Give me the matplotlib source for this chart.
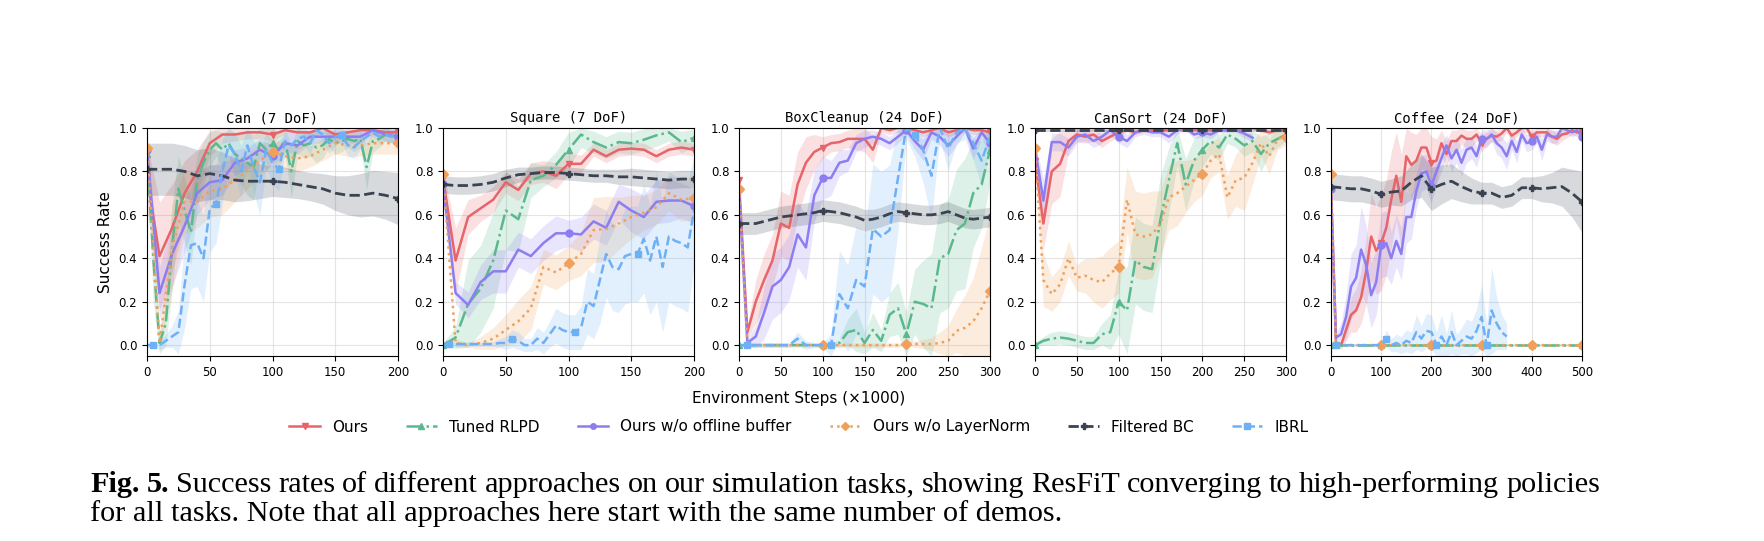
import numpy as np
import matplotlib
matplotlib.use("Agg")
import matplotlib.pyplot as plt
from matplotlib.lines import Line2D

# ---------------- data ----------------
methods = ["Ours", "Tuned RLPD", "Ours w/o offline buffer", "Ours w/o LayerNorm", "Filtered BC", "IBRL"]
titles = ["Can (7 DoF)", "Square (7 DoF)", "BoxCleanup (24 DoF)", "CanSort (24 DoF)", "Coffee (24 DoF)"]
x_max = [200, 200, 300, 300, 500]
x_ticks = [[0, 50, 100, 150, 200], [0, 50, 100, 150, 200],
           [0, 50, 100, 150, 200, 250, 300], [0, 50, 100, 150, 200, 250, 300],
           [0, 100, 200, 300, 400, 500]]

# Can
can_x10 = np.arange(0, 201, 10)
can_x5 = np.arange(0, 201, 5)
can_ours = [0.78, 0.41, 0.54, 0.70, 0.80, 0.93, 0.97, 0.97, 0.98, 0.98, 0.97, 0.99, 0.98, 0.98, 1.00, 0.97, 0.98, 0.99, 0.99, 0.98, 0.98]
can_ours_sd = [0.15, 0.25, 0.20, 0.15, 0.10, 0.06, 0.04, 0.03, 0.03, 0.03, 0.03, 0.02, 0.02, 0.03, 0.02, 0.03, 0.02, 0.02, 0.02, 0.02, 0.02]
can_rlpd = [0.88, 0.40, 0.01, 0.10, 0.45, 0.72, 0.62, 0.52, 0.76, 0.84, 0.90, 0.93, 0.90, 0.93, 0.88, 0.86, 0.84, 0.82, 0.93, 0.90,
            0.93, 0.90, 0.94, 0.80, 0.94, 0.92, 0.93, 0.91, 0.92, 0.95, 0.93, 0.94, 0.95, 0.94, 0.95, 0.82, 0.94, 0.95, 0.97, 0.96, 0.97]
can_rlpd_sd = [0.05, 0.20, 0.05, 0.10, 0.20, 0.15, 0.15, 0.15, 0.12, 0.10, 0.08, 0.06, 0.08, 0.06, 0.10, 0.12, 0.15, 0.15, 0.08, 0.10,
               0.08, 0.08, 0.06, 0.12, 0.06, 0.06, 0.06, 0.07, 0.06, 0.04, 0.05, 0.05, 0.04, 0.05, 0.04, 0.10, 0.05, 0.04, 0.03, 0.03, 0.03]
can_offbuf = [0.90, 0.24, 0.42, 0.55, 0.70, 0.75, 0.76, 0.84, 0.86, 0.90, 0.87, 0.93, 0.92, 0.96, 0.96, 0.96, 0.96, 0.96, 0.99, 0.97, 0.96]
can_offbuf_sd = [0.05, 0.12, 0.15, 0.12, 0.10, 0.08, 0.07, 0.06, 0.05, 0.05, 0.05, 0.04, 0.04, 0.03, 0.03, 0.03, 0.03, 0.03, 0.02, 0.03, 0.03]
can_noln = [0.91, 0.01, 0.45, 0.66, 0.66, 0.71, 0.72, 0.76, 0.80, 0.85, 0.89, 0.87, 0.86, 0.87, 0.90, 0.93, 0.92, 0.92, 0.93, 0.93, 0.93]
can_noln_sd = [0.03, 0.04, 0.20, 0.15, 0.12, 0.12, 0.12, 0.10, 0.08, 0.07, 0.06, 0.06, 0.06, 0.05, 0.05, 0.05, 0.05, 0.05, 0.05, 0.05, 0.05]
can_bc = [0.81, 0.81, 0.81, 0.80, 0.78, 0.79, 0.78, 0.76, 0.755, 0.755, 0.755, 0.75, 0.74, 0.73, 0.72, 0.70, 0.69, 0.69, 0.70, 0.69, 0.675]
can_bc_sd = [0.12, 0.12, 0.12, 0.12, 0.12, 0.12, 0.11, 0.10, 0.09, 0.08, 0.07, 0.07, 0.065, 0.065, 0.07, 0.08, 0.09, 0.10, 0.105, 0.11, 0.12]
can_ibrl = [0.0, 0.0, 0.0, 0.02, 0.04, 0.06, 0.28, 0.46, 0.47, 0.40, 0.63, 0.65, 0.80, 0.92, 0.88, 0.80, 0.92, 0.82, 0.75, 0.90,
            0.84, 0.81, 0.94, 0.92, 0.95, 0.96, 0.93, 0.99, 0.97, 0.93, 0.96, 0.97, 0.92, 0.91, 0.94, 0.96, 0.98, 0.96, 0.97, 0.96, 0.97]
can_ibrl_sd = [0.01, 0.01, 0.02, 0.03, 0.05, 0.10, 0.20, 0.20, 0.20, 0.20, 0.20, 0.18, 0.15, 0.08, 0.10, 0.12, 0.08, 0.12, 0.15, 0.08,
               0.10, 0.10, 0.05, 0.06, 0.05, 0.04, 0.05, 0.02, 0.03, 0.05, 0.04, 0.03, 0.05, 0.05, 0.04, 0.03, 0.02, 0.03, 0.03, 0.03, 0.03]

# Square
sq_x10 = np.arange(0, 201, 10)
sq_x5 = np.arange(0, 201, 5)
sq_ours = [0.77, 0.39, 0.59, 0.63, 0.67, 0.75, 0.715, 0.79, 0.80, 0.78, 0.835, 0.835, 0.90, 0.87, 0.90, 0.905, 0.90, 0.87, 0.90, 0.91, 0.90]
sq_ours_sd = [0.04, 0.15, 0.08, 0.06, 0.06, 0.05, 0.05, 0.05, 0.05, 0.06, 0.05, 0.04, 0.03, 0.03, 0.03, 0.03, 0.03, 0.03, 0.03, 0.03, 0.03]
sq_rlpd = [0.0, 0.035, 0.19, 0.26, 0.39, 0.62, 0.58, 0.76, 0.78, 0.83, 0.90, 0.97, 0.935, 0.91, 0.935, 0.93, 0.946, 0.966, 0.98, 0.935, 0.955]
sq_rlpd_sd = [0.01, 0.05, 0.20, 0.20, 0.22, 0.18, 0.15, 0.08, 0.05, 0.06, 0.08, 0.06, 0.05, 0.05, 0.05, 0.05, 0.05, 0.05, 0.04, 0.05, 0.04]
sq_offbuf = [0.74, 0.24, 0.185, 0.29, 0.34, 0.34, 0.44, 0.41, 0.47, 0.515, 0.515, 0.51, 0.57, 0.54, 0.66, 0.62, 0.59, 0.66, 0.666, 0.666, 0.64]
sq_offbuf_sd = [0.04, 0.05, 0.06, 0.08, 0.10, 0.10, 0.08, 0.08, 0.08, 0.08, 0.06, 0.08, 0.08, 0.08, 0.08, 0.10, 0.10, 0.10, 0.10, 0.08, 0.08]
sq_noln = [0.79, 0.01, 0.0, 0.01, 0.03, 0.07, 0.11, 0.17, 0.36, 0.335, 0.377, 0.42, 0.53, 0.535, 0.56, 0.59, 0.61, 0.635, 0.70, 0.67, 0.677]
sq_noln_sd = [0.02, 0.02, 0.01, 0.03, 0.05, 0.07, 0.10, 0.10, 0.08, 0.08, 0.08, 0.10, 0.15, 0.15, 0.12, 0.10, 0.08, 0.08, 0.08, 0.10, 0.10]
sq_bc = [0.74, 0.735, 0.735, 0.74, 0.75, 0.77, 0.785, 0.79, 0.795, 0.795, 0.79, 0.785, 0.78, 0.78, 0.775, 0.775, 0.77, 0.765, 0.76, 0.765, 0.765]
sq_bc_sd = [0.04, 0.04, 0.04, 0.04, 0.04, 0.04, 0.035, 0.03, 0.03, 0.03, 0.03, 0.03, 0.03, 0.03, 0.035, 0.04, 0.04, 0.04, 0.04, 0.04, 0.04]
sq_ibrl = [0.0, 0.005, 0.005, 0.005, 0.005, 0.005, 0.005, 0.005, 0.005, 0.01, 0.01, 0.03, 0.02, 0.0, 0.0, 0.03, 0.01, 0.05, 0.09, 0.07,
           0.06, 0.06, 0.08, 0.20, 0.18, 0.30, 0.42, 0.36, 0.35, 0.41, 0.42, 0.42, 0.49, 0.39, 0.50, 0.36, 0.50, 0.48, 0.47, 0.45, 0.62]
sq_ibrl_sd = [0.0, 0.01, 0.01, 0.01, 0.01, 0.01, 0.01, 0.01, 0.01, 0.02, 0.03, 0.04, 0.04, 0.03, 0.03, 0.05, 0.05, 0.06, 0.08, 0.08,
              0.08, 0.08, 0.10, 0.15, 0.15, 0.20, 0.20, 0.20, 0.20, 0.22, 0.22, 0.22, 0.25, 0.25, 0.30, 0.30, 0.30, 0.30, 0.30, 0.30, 0.25]

# BoxCleanup
box_x = np.arange(0, 301, 10)
box_ours = [0.76, 0.06, 0.20, 0.30, 0.39, 0.56, 0.54, 0.74, 0.84, 0.89, 0.91, 0.93, 0.935, 0.95, 0.95, 0.95, 0.90, 1.0, 0.99, 1.0,
            1.0, 0.99, 0.98, 0.99, 1.0, 0.98, 0.99, 1.0, 0.99, 0.99, 0.98]
box_ours_sd = [0.03, 0.03, 0.10, 0.12, 0.12, 0.15, 0.15, 0.15, 0.12, 0.08, 0.05, 0.04, 0.04, 0.04, 0.05, 0.06, 0.06, 0.02, 0.02, 0.02,
               0.02, 0.02, 0.02, 0.02, 0.02, 0.02, 0.02, 0.02, 0.02, 0.02, 0.02]
box_rlpd = [0.0, 0.0, 0.0, 0.0, 0.0, 0.0, 0.0, 0.0, 0.0, 0.0, 0.0, 0.0, 0.01, 0.06, 0.07, 0.01, 0.07, 0.02, 0.14, 0.17,
            0.05, 0.20, 0.19, 0.17, 0.40, 0.42, 0.53, 0.56, 0.70, 0.74, 0.90]
box_rlpd_sd = [0.0, 0.0, 0.0, 0.0, 0.0, 0.0, 0.0, 0.0, 0.0, 0.0, 0.0, 0.0, 0.02, 0.06, 0.10, 0.05, 0.08, 0.05, 0.10, 0.12,
               0.10, 0.15, 0.20, 0.25, 0.25, 0.25, 0.28, 0.30, 0.25, 0.20, 0.15]
box_offbuf = [0.72, 0.01, 0.04, 0.15, 0.27, 0.30, 0.36, 0.51, 0.45, 0.69, 0.77, 0.77, 0.84, 0.85, 0.93, 0.95, 0.96, 0.95, 0.93, 0.96,
              0.99, 0.94, 0.90, 0.98, 0.96, 0.92, 0.96, 1.0, 0.905, 0.98, 0.93]
box_offbuf_sd = [0.03, 0.02, 0.05, 0.12, 0.15, 0.15, 0.15, 0.15, 0.15, 0.12, 0.10, 0.08, 0.06, 0.05, 0.04, 0.04, 0.03, 0.03, 0.03, 0.03,
                 0.02, 0.04, 0.05, 0.03, 0.04, 0.05, 0.04, 0.02, 0.05, 0.03, 0.05]
box_noln = [0.72, 0.0, 0.0, 0.0, 0.0, 0.0, 0.0, 0.0, 0.0, 0.0, 0.0, 0.0, 0.0, 0.0, 0.0, 0.0, 0.0, 0.0, 0.0, 0.0,
            0.005, 0.005, 0.005, 0.005, 0.01, 0.02, 0.066, 0.08, 0.11, 0.17, 0.25]
box_noln_sd = [0.02, 0.01, 0.01, 0.01, 0.01, 0.01, 0.01, 0.01, 0.01, 0.01, 0.01, 0.01, 0.01, 0.01, 0.01, 0.01, 0.01, 0.01, 0.01, 0.01,
               0.01, 0.015, 0.02, 0.03, 0.05, 0.07, 0.10, 0.15, 0.20, 0.28, 0.35]
box_bc = [0.56, 0.56, 0.56, 0.57, 0.58, 0.59, 0.595, 0.60, 0.605, 0.61, 0.62, 0.615, 0.61, 0.60, 0.59, 0.575, 0.58, 0.59, 0.605, 0.615,
          0.61, 0.605, 0.60, 0.60, 0.605, 0.615, 0.60, 0.585, 0.58, 0.585, 0.59]
box_bc_sd = [0.05, 0.05, 0.05, 0.05, 0.05, 0.05, 0.05, 0.05, 0.05, 0.05, 0.05, 0.05, 0.05, 0.05, 0.05, 0.05, 0.045, 0.045, 0.045, 0.045,
             0.045, 0.045, 0.045, 0.045, 0.045, 0.045, 0.045, 0.045, 0.045, 0.045, 0.045]
box_ibrl = [0.0, 0.0, 0.0, 0.0, 0.0, 0.0, 0.0, 0.03, 0.0, 0.0, 0.0, 0.0, 0.235, 0.17, 0.30, 0.27, 0.535, 0.50, 0.53, 0.77,
            1.0, 0.97, 0.90, 0.78, 1.0, 0.905, 0.98, 1.0, 0.93, 0.85, 0.96]
box_ibrl_sd = [0.0, 0.01, 0.01, 0.01, 0.01, 0.01, 0.01, 0.03, 0.02, 0.01, 0.01, 0.05, 0.20, 0.20, 0.25, 0.25, 0.30, 0.30, 0.30, 0.25,
               0.05, 0.10, 0.15, 0.20, 0.05, 0.10, 0.05, 0.05, 0.08, 0.12, 0.06]

# CanSort
cs_x = np.arange(0, 301, 10)
cs_offbuf_x = np.arange(0, 261, 10)
cs_ours = [0.85, 0.56, 0.80, 0.835, 0.94, 0.97, 0.96, 0.97, 0.94, 0.96, 0.98, 0.99, 0.98, 0.99, 0.99, 0.99, 0.99, 1.0, 0.99, 0.99,
           1.0, 0.99, 0.99, 1.0, 1.0, 0.99, 1.0, 0.99, 0.98, 0.99, 0.99]
cs_ours_sd = [0.05, 0.12, 0.15, 0.15, 0.05, 0.03, 0.03, 0.03, 0.03, 0.02, 0.02, 0.01, 0.01, 0.01, 0.01, 0.01, 0.01, 0.01, 0.01, 0.01,
              0.01, 0.01, 0.01, 0.01, 0.01, 0.01, 0.01, 0.01, 0.01, 0.01, 0.01]
cs_rlpd = [0.0, 0.02, 0.03, 0.035, 0.03, 0.02, 0.01, 0.01, 0.05, 0.06, 0.20, 0.16, 0.39, 0.36, 0.35, 0.58, 0.76, 0.93, 0.74, 0.85,
           0.90, 0.94, 0.91, 0.97, 0.95, 0.92, 0.94, 0.88, 0.93, 0.95, 0.97]
cs_rlpd_sd = [0.01, 0.02, 0.03, 0.03, 0.03, 0.03, 0.03, 0.03, 0.05, 0.08, 0.15, 0.20, 0.20, 0.20, 0.20, 0.20, 0.15, 0.10, 0.12, 0.10,
              0.08, 0.06, 0.06, 0.04, 0.04, 0.05, 0.05, 0.08, 0.05, 0.04, 0.03]
cs_offbuf = [0.91, 0.666, 0.935, 0.935, 0.91, 0.96, 0.97, 0.94, 0.96, 0.99, 0.96, 0.94, 0.98, 0.99, 0.98, 0.98, 0.96, 0.99, 1.0, 0.97,
             0.98, 0.97, 0.99, 0.99, 0.99, 0.975, 0.955]
cs_offbuf_sd = [0.03, 0.10, 0.04, 0.04, 0.04, 0.03, 0.03, 0.03, 0.03, 0.02, 0.03, 0.03, 0.02, 0.02, 0.02, 0.02, 0.03, 0.02, 0.01, 0.02,
                0.02, 0.02, 0.01, 0.01, 0.01, 0.02, 0.02]
cs_noln = [0.91, 0.30, 0.235, 0.28, 0.40, 0.31, 0.32, 0.30, 0.29, 0.33, 0.36, 0.67, 0.51, 0.50, 0.51, 0.56, 0.68, 0.70, 0.73, 0.76,
           0.79, 0.85, 0.88, 0.68, 0.76, 0.77, 0.84, 0.93, 0.87, 0.95, 0.96]
cs_noln_sd = [0.03, 0.12, 0.08, 0.08, 0.08, 0.06, 0.08, 0.10, 0.12, 0.12, 0.12, 0.15, 0.20, 0.20, 0.20, 0.15, 0.15, 0.15, 0.12, 0.10,
              0.10, 0.08, 0.08, 0.10, 0.12, 0.15, 0.10, 0.06, 0.08, 0.05, 0.04]
cs_bc = [0.99, 0.99, 0.99, 0.99, 0.99, 0.99, 0.99, 0.99, 0.99, 0.99, 0.99, 0.99, 0.99, 0.99, 0.99, 0.99, 0.99, 0.99, 0.99, 0.99,
         0.99, 0.99, 0.99, 0.99, 0.99, 0.99, 0.99, 0.99, 0.99, 0.99, 0.99]
cs_bc_sd = [0.01, 0.01, 0.01, 0.01, 0.01, 0.01, 0.01, 0.01, 0.01, 0.01, 0.01, 0.01, 0.01, 0.01, 0.01, 0.01, 0.01, 0.01, 0.01, 0.01,
            0.01, 0.01, 0.01, 0.01, 0.01, 0.01, 0.01, 0.01, 0.01, 0.01, 0.01]

# Coffee
cof_x = np.arange(0, 501, 10)
cof_bc_x = np.arange(0, 501, 20)
cof_ibrl_x = np.arange(0, 351, 10)
cof_rlpd_x = [0, 100, 200, 300, 400, 500]
cof_noln_x = [0, 10, 100, 200, 300, 400, 500]
cof_ours = [0.72, 0.0, 0.0, 0.07, 0.14, 0.16, 0.22, 0.34, 0.50, 0.435, 0.47, 0.54, 0.67, 0.78, 0.66, 0.87, 0.83, 0.85, 0.91, 0.91,
            0.84, 0.85, 0.93, 0.88, 0.94, 0.94, 0.965, 0.95, 0.95, 0.97, 0.93, 0.95, 0.965, 0.96, 0.975, 1.0, 0.965, 0.98, 1.0, 1.0,
            0.96, 0.98, 0.98, 0.98, 0.96, 0.95, 0.97, 0.975, 0.99, 0.98, 0.98]
cof_ours_sd = [0.05, 0.01, 0.02, 0.05, 0.08, 0.10, 0.12, 0.15, 0.20, 0.20, 0.22, 0.22, 0.22, 0.20, 0.22, 0.15, 0.15, 0.12, 0.10, 0.10,
               0.12, 0.10, 0.06, 0.06, 0.05, 0.05, 0.04, 0.04, 0.04, 0.03, 0.04, 0.03, 0.03, 0.03, 0.03, 0.02, 0.03, 0.02, 0.02, 0.02,
               0.03, 0.02, 0.02, 0.02, 0.03, 0.03, 0.03, 0.02, 0.02, 0.02, 0.02]
cof_rlpd = [0.0, 0.0, 0.0, 0.0, 0.0, 0.0]
cof_rlpd_sd = [0.005, 0.005, 0.005, 0.005, 0.005, 0.005]
cof_offbuf = [0.72, 0.035, 0.05, 0.13, 0.27, 0.31, 0.44, 0.37, 0.23, 0.29, 0.46, 0.47, 0.40, 0.48, 0.42, 0.59, 0.59, 0.71, 0.79, 0.80,
              0.735, 0.80, 0.86, 0.92, 0.86, 0.90, 0.84, 0.90, 0.91, 0.87, 0.95, 0.95, 0.97, 0.93, 0.91, 0.87, 0.94, 0.89, 0.97, 0.93,
              0.94, 0.96, 0.90, 0.97, 0.96, 0.96, 1.0, 0.99, 0.98, 0.99, 0.96]
cof_offbuf_sd = [0.03, 0.02, 0.05, 0.10, 0.15, 0.15, 0.20, 0.18, 0.15, 0.15, 0.15, 0.15, 0.12, 0.12, 0.12, 0.12, 0.10, 0.08, 0.08, 0.08,
                 0.08, 0.06, 0.06, 0.05, 0.06, 0.06, 0.06, 0.06, 0.05, 0.05, 0.04, 0.04, 0.03, 0.05, 0.05, 0.06, 0.04, 0.05, 0.03, 0.04,
                 0.04, 0.03, 0.05, 0.03, 0.03, 0.03, 0.02, 0.02, 0.02, 0.02, 0.03]
cof_noln = [0.79, 0.0, 0.0, 0.0, 0.0, 0.0, 0.0]
cof_noln_sd = [0.01, 0.005, 0.005, 0.005, 0.005, 0.005, 0.005]
cof_bc = [0.73, 0.725, 0.72, 0.72, 0.71, 0.695, 0.705, 0.71, 0.75, 0.78, 0.72, 0.74, 0.755, 0.73, 0.71, 0.70, 0.70, 0.68, 0.69, 0.725,
          0.725, 0.72, 0.725, 0.73, 0.70, 0.66]
cof_bc_sd = [0.06, 0.06, 0.06, 0.06, 0.06, 0.06, 0.06, 0.07, 0.08, 0.10, 0.10, 0.09, 0.08, 0.07, 0.06, 0.05, 0.05, 0.05, 0.05, 0.05,
             0.05, 0.06, 0.07, 0.09, 0.11, 0.14]
cof_ibrl = [0.0, 0.0, 0.0, 0.0, 0.0, 0.0, 0.0, 0.0, 0.0, 0.0, 0.0, 0.03, 0.0, 0.01, 0.0, 0.02, 0.01, 0.06, 0.03, 0.066,
            0.06, 0.0, 0.04, 0.0, 0.06, 0.0, 0.02, 0.04, 0.03, 0.066, 0.13, 0.0, 0.16, 0.10, 0.06, 0.04]
cof_ibrl_sd = [0.005, 0.005, 0.005, 0.005, 0.005, 0.005, 0.005, 0.005, 0.005, 0.005, 0.01, 0.04, 0.03, 0.04, 0.04, 0.05, 0.05, 0.08, 0.06, 0.08,
               0.08, 0.06, 0.10, 0.05, 0.10, 0.05, 0.06, 0.08, 0.08, 0.10, 0.15, 0.10, 0.20, 0.12, 0.08, 0.06]

caption_1 = "Fig. 5. Success rates of different approaches on our simulation tasks, showing ResFiT converging to high-performing policies"
caption_2 = "for all tasks. Note that all approaches here start with the same number of demos."

# ---------------- styles ----------------
colors = ["#e6646a", "#5ab98c", "#8c7df0", "#f0a05a", "#3a4352", "#6eb0f5"]
styles = ["-", "-.", "-", ":", "--", "--"]
markers = ["v", "^", "o", "D", "P", "s"]
widths = [1.8, 1.8, 1.8, 1.8, 2.0, 1.8]

# (method index, x, mean, sd)
panels = [
    [(0, can_x10, can_ours, can_ours_sd), (1, can_x5, can_rlpd, can_rlpd_sd), (2, can_x10, can_offbuf, can_offbuf_sd),
     (3, can_x10, can_noln, can_noln_sd), (4, can_x10, can_bc, can_bc_sd), (5, can_x5, can_ibrl, can_ibrl_sd)],
    [(0, sq_x10, sq_ours, sq_ours_sd), (1, sq_x10, sq_rlpd, sq_rlpd_sd), (2, sq_x10, sq_offbuf, sq_offbuf_sd),
     (3, sq_x10, sq_noln, sq_noln_sd), (4, sq_x10, sq_bc, sq_bc_sd), (5, sq_x5, sq_ibrl, sq_ibrl_sd)],
    [(0, box_x, box_ours, box_ours_sd), (1, box_x, box_rlpd, box_rlpd_sd), (2, box_x, box_offbuf, box_offbuf_sd),
     (3, box_x, box_noln, box_noln_sd), (4, box_x, box_bc, box_bc_sd), (5, box_x, box_ibrl, box_ibrl_sd)],
    [(0, cs_x, cs_ours, cs_ours_sd), (1, cs_x, cs_rlpd, cs_rlpd_sd), (2, cs_offbuf_x, cs_offbuf, cs_offbuf_sd),
     (3, cs_x, cs_noln, cs_noln_sd), (4, cs_x, cs_bc, cs_bc_sd)],
    [(0, cof_x, cof_ours, cof_ours_sd), (1, cof_rlpd_x, cof_rlpd, cof_rlpd_sd), (2, cof_x, cof_offbuf, cof_offbuf_sd),
     (3, cof_noln_x, cof_noln, cof_noln_sd), (4, cof_bc_x, cof_bc, cof_bc_sd), (5, cof_ibrl_x, cof_ibrl, cof_ibrl_sd)],
]

W, H = 1764, 541
fig = plt.figure(figsize=(W / 100, H / 100), dpi=100)

lefts = [147, 443, 739, 1035, 1331]
ax_w, ax_top, ax_bot = 251, 128, 356

for i, (title, series) in enumerate(zip(titles, panels)):
    ax = fig.add_axes([lefts[i] / W, 1 - ax_bot / H, ax_w / W, (ax_bot - ax_top) / H])
    for m, x, y, sd in series:
        x = np.asarray(x)
        y = np.asarray(y)
        sd = np.asarray(sd)
        ax.fill_between(x, np.clip(y - sd, -0.05, 1.0), np.clip(y + sd, -0.05, 1.0),
                        color=colors[m], alpha=0.2, linewidth=0)
        if m == 5:
            period, off = (50, 5) if x_max[i] == 200 else (100, 10)
            marks = np.where((x - off) % period == 0)[0]
        else:
            marks = np.where(x % 100 == 0)[0]
        ax.plot(x, y, color=colors[m], ls=styles[m], lw=widths[m], marker=markers[m],
                markersize=5, markevery=list(marks))
    ax.set_xlim(0, x_max[i])
    ax.set_ylim(-0.05, 1.0)
    ax.set_xticks(x_ticks[i])
    ax.set_yticks([0.0, 0.2, 0.4, 0.6, 0.8, 1.0])
    ax.set_yticklabels(["0.0", "0.2", "0.4", "0.6", "0.8", "1.0"])
    ax.tick_params(labelsize=8.5)
    ax.grid(True, color="#d9d9d9", linewidth=0.8, alpha=0.7)
    ax.set_axisbelow(True)
    ax.set_title(title, family="DejaVu Sans Mono", fontsize=10, pad=4)
    if i == 0:
        ax.set_ylabel("Success Rate", fontsize=11)

fig.text(799 / W, 1 - 399 / H, "Environment Steps (\u00d71000)", ha="center", va="center", fontsize=11)

handles = [Line2D([], [], color=colors[m], ls=styles[m], lw=widths[m], marker=markers[m], markersize=4)
           for m in range(6)]
fig.legend(handles, methods, loc="center", bbox_to_anchor=(799 / W, 1 - 427 / H), ncol=6,
           frameon=False, fontsize=11, handlelength=2.0, columnspacing=2.5)

# caption: first line justified between x=90 and x=1600, second line ragged
cap_fs = 21.8
cap_left, cap_right = 90, 1600
renderer = fig.canvas.get_renderer()
words = caption_1.split(" ")
texts = []
for k, w in enumerate(words):
    t = fig.text(0, 1 - 492 / H, w, family="Liberation Serif", fontsize=cap_fs, va="baseline",
                 fontweight="bold" if k < 2 else "normal")
    texts.append(t)
widths_px = [t.get_window_extent(renderer).width for t in texts]
gap = (cap_right - cap_left - sum(widths_px)) / (len(words) - 1)
xpos = cap_left
for t, wpx in zip(texts, widths_px):
    t.set_x(xpos / W)
    xpos += wpx + gap
fig.text(cap_left / W, 1 - 521 / H, caption_2, family="Liberation Serif", fontsize=cap_fs, va="baseline")

fig.savefig("out.png", dpi=100)
